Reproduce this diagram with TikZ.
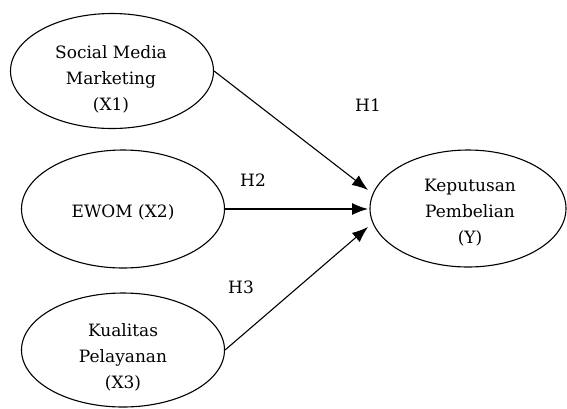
\documentclass[tikz,border=0pt]{standalone}
\usepackage{fontspec}
\setmainfont{DejaVu Serif}
\usetikzlibrary{shapes.geometric,arrows.meta}
\begin{document}
\begin{tikzpicture}[x=1pt,y=-1pt,
  var/.style={draw, ellipse, line width=1.1pt, inner sep=0pt},
  txt/.style={inner sep=0pt, align=center, font=\fontsize{17}{26}\selectfont},
  hyp/.style={inner sep=0pt, font=\fontsize{17}{26}\selectfont},
  link/.style={line width=1.1pt, -{Latex[length=16pt,width=12pt]}}]
\useasboundingbox (0,0) rectangle (567,408);
\node[var, minimum width=203pt, minimum height=115pt] (x1) at (112,71) {};
\node[var, minimum width=203pt, minimum height=118pt] (x2) at (123,209) {};
\node[var, minimum width=203pt, minimum height=114pt] (x3) at (123,350) {};
\node[var, minimum width=196pt, minimum height=117pt] (y) at (468,208.5) {};
\node[txt] (x1t) at (111,79) {Social Media\\Marketing\\(X1)};
\node[txt] (x2t) at (123,212) {EWOM (X2)};
\node[txt] (x3t) at (123,357) {Kualitas\\Pelayanan\\(X3)};
\node[txt] (yt) at (470,212.5) {Keputusan\\Pembelian\\(Y)};
\coordinate (t1) at (368,190);
\coordinate (t2) at (368,209);
\coordinate (t3) at (368,227);
\draw[link] (x1.east) -- (t1);
\draw[link] (x2.east) -- (t2);
\draw[link] (x3.east) -- (t3);
\node[hyp] (h1) at (368,105) {H1};
\node[hyp] (h2) at (253,180) {H2};
\node[hyp] (h3) at (241,287) {H3};
\end{tikzpicture}
\end{document}
